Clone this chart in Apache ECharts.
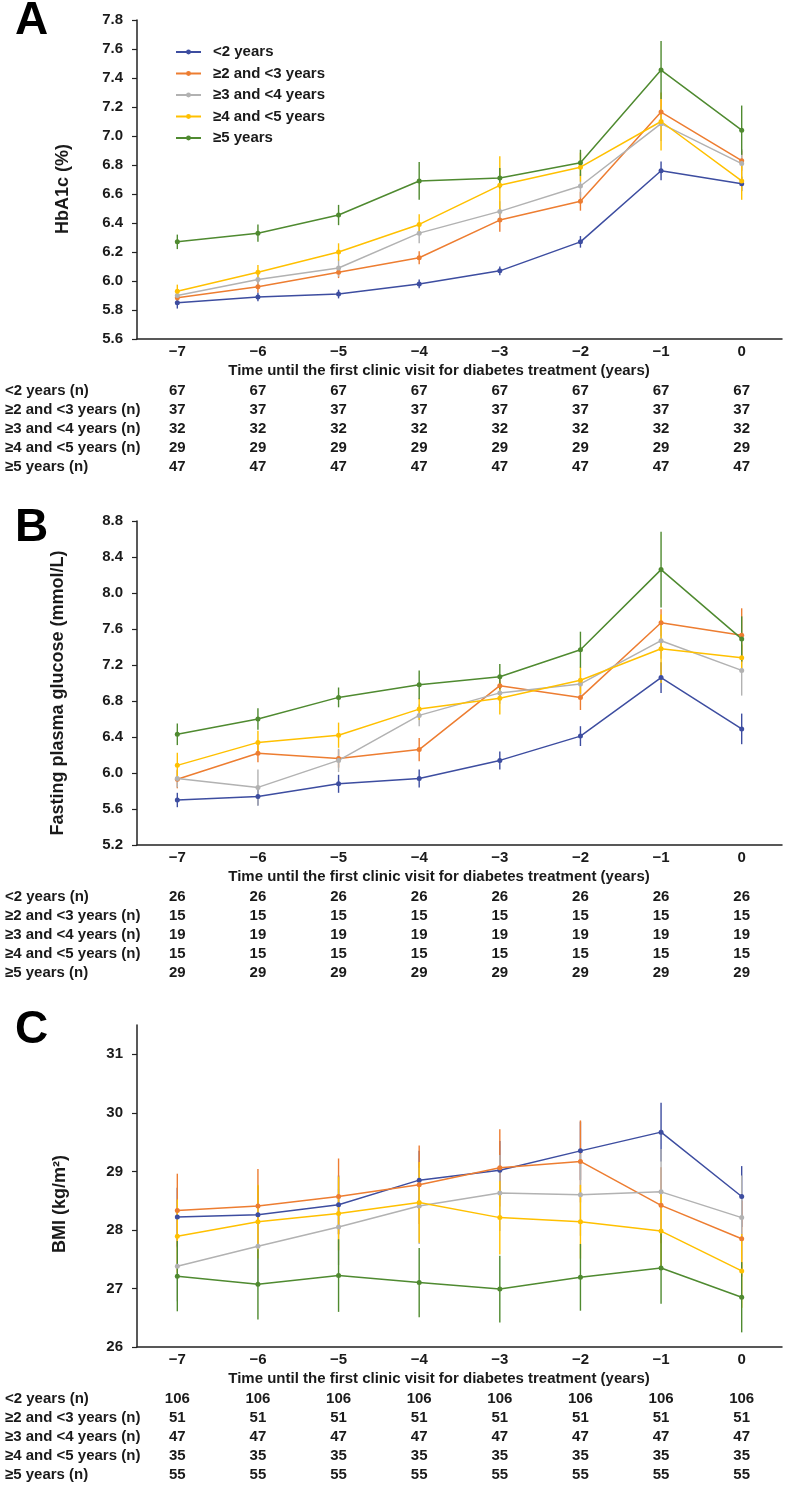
<!DOCTYPE html>
<html>
<head>
<meta charset="utf-8">
<script src="https://cdn.jsdelivr.net/npm/echarts@6.0.0/dist/echarts.min.js"></script>
<style>
html,body{margin:0;padding:0;background:#fff;}
#chart{width:786px;height:1486px;}
</style>
</head>
<body>
<div id="chart"></div>
<script>
// ---------- data ----------
const years = ['\u22127','\u22126','\u22125','\u22124','\u22123','\u22122','\u22121','0'];
const groups = ['<2 years','\u22652 and <3 years','\u22653 and <4 years','\u22654 and <5 years','\u22655 years'];
const rowLabels = ['<2 years (n)','\u22652 and <3 years (n)','\u22653 and <4 years (n)','\u22654 and <5 years (n)','\u22655 years (n)'];
const colors = ['#3d4da0','#ed7d31','#b2b2b2','#ffc000','#4f8a30'];

// Panel A: HbA1c (%) means and error half-widths
const hba1cLt2   = [5.85, 5.89, 5.91, 5.98, 6.07, 6.27, 6.76, 6.67];
const hba1cGe2   = [5.885, 5.96, 6.06, 6.16, 6.42, 6.55, 7.165, 6.83];
const hba1cGe3   = [5.90, 6.01, 6.09, 6.33, 6.48, 6.655, 7.085, 6.81];
const hba1cGe4   = [5.93, 6.06, 6.20, 6.39, 6.66, 6.785, 7.10, 6.69];
const hba1cGe5   = [6.27, 6.33, 6.455, 6.69, 6.71, 6.815, 7.455, 7.04];
const hba1cErrLt2 = [0.04, 0.03, 0.03, 0.03, 0.03, 0.04, 0.065, 0.05];
const hba1cErrGe2 = [0.03, 0.04, 0.04, 0.045, 0.08, 0.065, 0.09, 0.07];
const hba1cErrGe3 = [0.03, 0.04, 0.06, 0.07, 0.07, 0.08, 0.12, 0.10];
const hba1cErrGe4 = [0.045, 0.05, 0.06, 0.07, 0.20, 0.10, 0.20, 0.13];
const hba1cErrGe5 = [0.05, 0.06, 0.07, 0.13, 0.07, 0.09, 0.20, 0.17];
const hba1cN = [67, 37, 32, 29, 47];

// Panel B: fasting plasma glucose (mmol/L)
const fpgLt2 = [5.70, 5.74, 5.88, 5.94, 6.14, 6.41, 7.06, 6.49];
const fpgGe2 = [5.93, 6.22, 6.16, 6.26, 6.97, 6.84, 7.67, 7.53];
const fpgGe3 = [5.94, 5.84, 6.14, 6.64, 6.89, 6.99, 7.47, 7.14];
const fpgGe4 = [6.085, 6.34, 6.42, 6.71, 6.83, 7.03, 7.38, 7.28];
const fpgGe5 = [6.43, 6.60, 6.84, 6.98, 7.07, 7.37, 8.26, 7.49];
const fpgErrLt2 = [0.08, 0.10, 0.10, 0.10, 0.10, 0.11, 0.17, 0.17];
const fpgErrGe2 = [0.10, 0.10, 0.10, 0.13, 0.12, 0.14, 0.15, 0.30];
const fpgErrGe3 = [0.10, 0.20, 0.13, 0.12, 0.12, 0.15, 0.20, 0.28];
const fpgErrGe4 = [0.14, 0.13, 0.14, 0.12, 0.18, 0.15, 0.38, 0.15];
const fpgErrGe5 = [0.12, 0.12, 0.11, 0.16, 0.14, 0.20, 0.42, 0.25];
const fpgN = [26, 15, 19, 15, 29];

// Panel C: BMI (kg/m2)
const bmiLt2 = [28.22, 28.26, 28.43, 28.85, 29.02, 29.35, 29.67, 28.57];
const bmiGe2 = [28.33, 28.41, 28.57, 28.77, 29.06, 29.17, 28.42, 27.85];
const bmiGe3 = [27.38, 27.72, 28.05, 28.41, 28.63, 28.60, 28.65, 28.21];
const bmiGe4 = [27.89, 28.14, 28.28, 28.47, 28.21, 28.14, 27.98, 27.30];
const bmiGe5 = [27.21, 27.07, 27.22, 27.10, 26.99, 27.19, 27.35, 26.85];
const bmiErrLt2 = [0.50, 0.50, 0.50, 0.50, 0.50, 0.50, 0.50, 0.52];
const bmiErrGe2 = [0.63, 0.63, 0.65, 0.67, 0.66, 0.70, 0.65, 0.65];
const bmiErrGe3 = [0.60, 0.65, 0.65, 0.65, 0.65, 0.70, 0.73, 0.72];
const bmiErrGe4 = [0.63, 0.63, 0.63, 0.69, 0.63, 0.63, 0.63, 0.63];
const bmiErrGe5 = [0.60, 0.60, 0.62, 0.59, 0.57, 0.57, 0.61, 0.60];
const bmiN = [106, 51, 47, 35, 55];

const hba1cTicks = [5.6, 7.8, 0.2];
const fpgTicks = [5.2, 8.8, 0.4];
const bmiTicks = [26, 31.5, 1];
const bmiTickValues = [26, 27, 28, 29, 30, 31];

// ---------- layout ----------
const FONT = 'Liberation Sans, Arial, sans-serif';
const TXT = '#1a1a1a';
const panels = [
  {top: 20, height: 319, title: 'HbA1c (%)', letter: 'A', ytx: 63, yty: 189, means: [hba1cLt2,hba1cGe2,hba1cGe3,hba1cGe4,hba1cGe5], errs: [hba1cErrLt2,hba1cErrGe2,hba1cErrGe3,hba1cErrGe4,hba1cErrGe5], n: hba1cN, ticks: hba1cTicks, dec: 1, letterY: 21},
  {top: 521, height: 324, title: 'Fasting plasma glucose (mmol/L)', letter: 'B', ytx: 58, yty: 693, means: [fpgLt2,fpgGe2,fpgGe3,fpgGe4,fpgGe5], errs: [fpgErrLt2,fpgErrGe2,fpgErrGe3,fpgErrGe4,fpgErrGe5], n: fpgN, ticks: fpgTicks, dec: 1, letterY: 528},
  {top: 1025, height: 322, title: 'BMI (kg/m\u00b2)', letter: 'C', ytx: 60, yty: 1204, means: [bmiLt2,bmiGe2,bmiGe3,bmiGe4,bmiGe5], errs: [bmiErrLt2,bmiErrGe2,bmiErrGe3,bmiErrGe4,bmiErrGe5], n: bmiN, ticks: bmiTicks, dec: 0, letterY: 1030, custom: bmiTickValues}
];
const rowOffsets = [52, 71.2, 90.4, 109.6, 128.8];

const grid = [], xAxis = [], yAxis = [], series = [], graphic = [];
panels.forEach((p, gi) => {
  const axisY = p.top + p.height;
  grid.push({left: 137, right: 4, top: p.top, height: p.height});
  const mainX = xAxis.length;
  xAxis.push({
    gridIndex: gi, type: 'category', data: years, boundaryGap: true,
    axisLine: {show: true, lineStyle: {color: '#222', width: 1.5}},
    axisTick: {show: false},
    axisLabel: {fontSize: 15, fontWeight: 'bold', color: TXT, fontFamily: FONT, margin: 5}
  });
  const yLab = {fontSize: 15, fontWeight: 'bold', color: TXT, fontFamily: FONT, margin: 14,
    formatter: v => Number(v).toFixed(p.dec)};
  const yTick = {show: true, length: 5, lineStyle: {color: '#222', width: 1.2}};
  if (p.custom) { yLab.customValues = p.custom; yTick.customValues = p.custom; }
  yAxis.push({
    gridIndex: gi, type: 'value', min: p.ticks[0], max: p.ticks[1], interval: p.ticks[2],
    axisLine: {show: true, lineStyle: {color: '#222', width: 1.5}},
    axisTick: yTick, splitLine: {show: false}, axisLabel: yLab
  });
  // table rows as extra x axes
  p.n.forEach((nv, ri) => {
    xAxis.push({
      gridIndex: gi, type: 'category', data: years, position: 'bottom', boundaryGap: true,
      offset: rowOffsets[ri] - 8,
      axisLine: {show: false}, axisTick: {show: false},
      axisLabel: {fontSize: 15, fontWeight: 'bold', color: TXT, fontFamily: FONT, margin: 0,
        formatter: () => String(nv)}
    });
    graphic.push({type: 'text', left: 5, top: axisY + rowOffsets[ri] - 8,
      style: {text: rowLabels[ri], fontSize: 15, fontWeight: 'bold', fill: TXT, fontFamily: FONT}});
  });
  // error bars (custom) then lines
  groups.forEach((g, si) => {
    const errData = p.means[si].map((m, i) => [i, m - p.errs[si][i], m + p.errs[si][i]]);
    series.push({
      type: 'custom', name: g + ' (error)', xAxisIndex: mainX, yAxisIndex: gi, z: 2,
      data: errData, encode: {x: 0, y: [1, 2]}, silent: true,
      renderItem: (params, api) => {
        const x = api.value(0);
        const a = api.coord([x, api.value(1)]);
        const b = api.coord([x, api.value(2)]);
        return {type: 'line', shape: {x1: a[0], y1: a[1], x2: b[0], y2: b[1]},
          style: {stroke: colors[si], lineWidth: 1.4}};
      }
    });
  });
  groups.forEach((g, si) => {
    series.push({
      type: 'line', name: g, xAxisIndex: mainX, yAxisIndex: gi, z: 3,
      data: p.means[si], symbol: 'circle', symbolSize: 5, showSymbol: true,
      lineStyle: {color: colors[si], width: 1.5}, itemStyle: {color: colors[si]},
      animation: false
    });
  });
  // axis titles and panel letters
  graphic.push({type: 'text', x: 439, y: axisY + 32,
    style: {text: 'Time until the first clinic visit for diabetes treatment (years)', fontSize: 15, fontWeight: 'bold', fill: TXT, fontFamily: FONT, align: 'center', verticalAlign: 'middle'}});
  graphic.push({type: 'text', x: p.ytx, y: p.yty, rotation: Math.PI / 2,
    style: {text: p.title, fontSize: 18, fontWeight: 'bold', fill: TXT, fontFamily: FONT, align: 'center', verticalAlign: 'middle'}});
  graphic.push({type: 'text', x: 15, y: p.letterY,
    style: {text: p.letter, fontSize: 46, fontWeight: 'bold', fill: '#000', fontFamily: FONT, align: 'left', verticalAlign: 'middle'}});
});

const chart = echarts.init(document.getElementById('chart'), null, {renderer: 'canvas'});
chart.setOption({
  animation: false,
  backgroundColor: '#fff',
  grid, xAxis, yAxis, series, graphic,
  legend: {
    data: groups, orient: 'vertical', left: 170, top: 39.5, itemWidth: 25, itemHeight: 6, itemGap: 6.5,
    textStyle: {fontSize: 15, fontWeight: 'bold', color: TXT, fontFamily: FONT, padding: [0, 0, 0, 7]}
  }
});
</script>
</body>
</html>
